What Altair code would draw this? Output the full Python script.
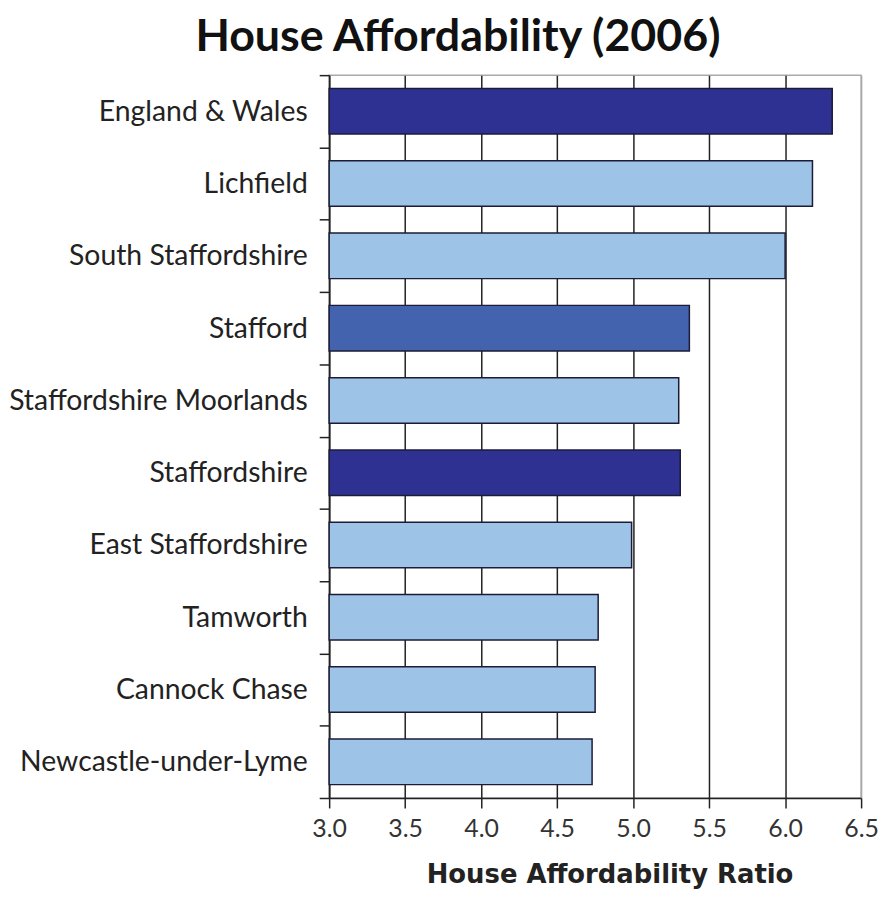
import altair as alt
import pandas as pd

areas = ["England & Wales", "Lichfield", "South Staffordshire", "Stafford",
         "Staffordshire Moorlands", "Staffordshire", "East Staffordshire",
         "Tamworth", "Cannock Chase", "Newcastle-under-Lyme"]
ratios = [6.31, 6.18, 6.00, 5.37, 5.30, 5.31, 4.99, 4.77, 4.75, 4.73]
groups = ["benchmark", "district", "district", "highlight", "district",
          "benchmark", "district", "district", "district", "district"]

group_domain = ["benchmark", "highlight", "district"]
group_colors = ["#2E3192", "#4363AE", "#9DC3E6"]

df = pd.DataFrame({"area": areas, "ratio": ratios, "group": groups})

FONT = "Lato"

bars = alt.Chart(df).mark_bar(
    height=alt.RelativeBandSize(0.63), stroke="#1c1c38", strokeWidth=1.5
).encode(
    y=alt.Y("area:N", sort=areas, title=None,
            scale=alt.Scale(paddingInner=0, paddingOuter=0),
            axis=alt.Axis(tickBand="extent", tickSize=10, tickColor="#222",
                          tickWidth=1.5, domainColor="#222", domainWidth=1.5,
                          labelFont=FONT, labelFontSize=28.5, labelColor="#222",
                          labelPadding=12, labelLimit=400,
                          minExtent=319, maxExtent=319)),
    x=alt.X("ratio:Q", title="House Affordability Ratio",
            scale=alt.Scale(domain=[3.0, 6.5], zero=False, nice=False),
            axis=alt.Axis(values=[3.0, 3.5, 4.0, 4.5, 5.0, 5.5, 6.0, 6.5],
                          format=".1f", grid=True, labelFlush=False,
                          gridColor={"condition": {"test": "datum.value >= 6.5", "value": "#aaaaaa"}, "value": "#222222"},
                          gridWidth=1.5, tickSize=10, tickColor="#222",
                          tickWidth=1.5, domainColor="#222", domainWidth=1.5,
                          labelFont=FONT, labelFontSize=25, labelColor="#333",
                          labelPadding=9, titleFont="DejaVu Sans", titleFontSize=26,
                          titleFontWeight="bold", titleColor="#222",
                          titlePadding=20, titleX=282, titleAnchor="middle")),
    x2=alt.datum(3.0),
    color=alt.Color("group:N", legend=None,
                    scale=alt.Scale(domain=group_domain, range=group_colors)),
)

chart = bars.properties(
    width=535, height=727,
    title=alt.TitleParams("House Affordability (2006)", font=FONT, fontSize=45,
                          fontWeight="bold", color="#111", offset=1,
                          anchor="middle", dx=-138),
    padding={"left": 0, "top": 5, "right": 0, "bottom": 0},
).configure_view(stroke="#aaaaaa", strokeWidth=1.5)

chart.save("out.html", embed_options={"renderer": "svg", "actions": False})
